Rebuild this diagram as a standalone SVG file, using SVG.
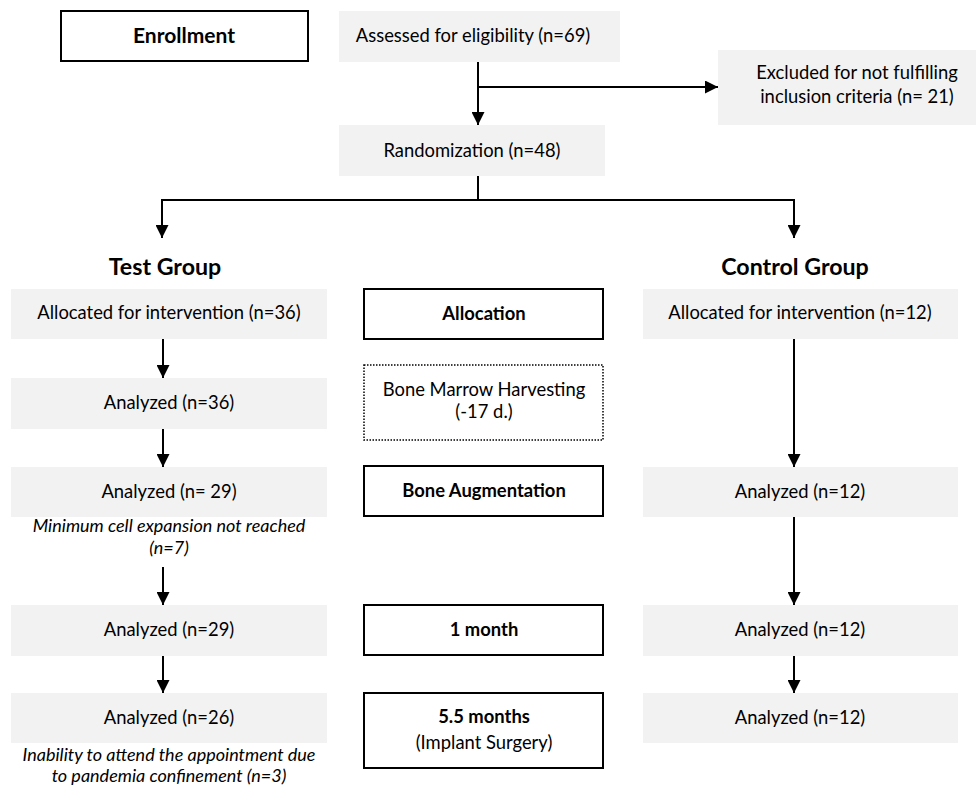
<svg xmlns="http://www.w3.org/2000/svg" width="976" height="785" viewBox="0 0 976 785">
<defs>
<style>
text{font-family:Lato,"Liberation Sans",sans-serif;font-size:18.4px;fill:#000;text-anchor:middle}
.b{font-weight:bold;font-size:18.4px}
.e{font-weight:bold;font-size:21px}
.h{font-weight:bold;font-size:23.2px}
.i{font-style:italic;font-size:18px}
.g{fill:#f2f2f2;stroke:none}
.w{fill:#fff;stroke:#000;stroke-width:2}
.d{fill:#fff;stroke:#000;stroke-width:1.5;stroke-dasharray:1.5 1.5}
.c{fill:none;stroke:#000;stroke-width:2}
</style>
<marker id="ah" markerWidth="13" markerHeight="13" refX="13" refY="6.5" orient="auto" markerUnits="userSpaceOnUse">
<path d="M0,0 L13,6.5 L0,13 Z" fill="#000"/>
</marker>
</defs>
<rect width="976" height="785" fill="#fff"/>
<g id="connectors">
<path class="c" d="M478,62 V125" marker-end="url(#ah)"/>
<path class="c" d="M478,87 H718" marker-end="url(#ah)"/>
<path class="c" d="M478,176 V200 H162 V238" marker-end="url(#ah)"/>
<path class="c" d="M478,200 H794 V238" marker-end="url(#ah)"/>
<path class="c" d="M163,339 V378" marker-end="url(#ah)"/>
<path class="c" d="M163,429 V467" marker-end="url(#ah)"/>
<path class="c" d="M163,567 V605" marker-end="url(#ah)"/>
<path class="c" d="M163,656 V693" marker-end="url(#ah)"/>
<path class="c" d="M794,339 V467" marker-end="url(#ah)"/>
<path class="c" d="M794,517 V605" marker-end="url(#ah)"/>
<path class="c" d="M794,656 V693" marker-end="url(#ah)"/>
</g>
<g id="enrollment"><rect class="w" x="61" y="11" width="247" height="50"/><text class="e" x="184" y="43">Enrollment</text></g>
<g id="assessed"><rect class="g" x="339" y="11" width="281" height="51"/><text x="473" y="42">Assessed for eligibility (n=69)</text></g>
<g id="excluded"><rect class="g" x="718" y="50" width="258" height="75"/><text x="857" y="79">Excluded for not fulfilling</text><text x="857" y="103">inclusion criteria (n= 21)</text></g>
<g id="randomization"><rect class="g" x="339" y="125" width="266" height="51"/><text x="472" y="157">Randomization (n=48)</text></g>
<g id="test-label"><text class="h" x="165" y="275">Test Group</text></g>
<g id="control-label"><text class="h" x="795" y="275">Control Group</text></g>
<g id="test-alloc"><rect class="g" x="11" y="289" width="316" height="50"/><text x="169" y="319">Allocated for intervention (n=36)</text></g>
<g id="test-an36"><rect class="g" x="11" y="378" width="316" height="51"/><text x="169" y="409">Analyzed (n=36)</text></g>
<g id="test-an29a"><rect class="g" x="11" y="467" width="316" height="50"/><text x="169" y="498">Analyzed (n= 29)</text><text class="i" x="169" y="532">Minimum cell expansion not reached</text><text class="i" x="169" y="554">(n=7)</text></g>
<g id="test-an29b"><rect class="g" x="11" y="605" width="316" height="51"/><text x="169" y="636">Analyzed (n=29)</text></g>
<g id="test-an26"><rect class="g" x="11" y="693" width="316" height="50"/><text x="169" y="724">Analyzed (n=26)</text><text class="i" x="169" y="761">Inability to attend the appointment due</text><text class="i" x="169" y="782">to pandemia confinement (n=3)</text></g>
<g id="allocation"><rect class="w" x="364" y="289" width="239" height="50"/><text class="b" x="484" y="320">Allocation</text></g>
<g id="harvest"><rect class="d" x="364" y="365" width="239" height="75"/><text x="484" y="396">Bone Marrow Harvesting</text><text x="484" y="418">(-17 d.)</text></g>
<g id="augment"><rect class="w" x="364" y="466" width="239" height="50"/><text class="b" x="484" y="497">Bone Augmentation</text></g>
<g id="month1"><rect class="w" x="364" y="605" width="239" height="50"/><text class="b" x="484" y="636">1 month</text></g>
<g id="month55"><rect class="w" x="364" y="693" width="239" height="75"/><text class="b" x="484" y="723">5.5 months</text><text x="484" y="749">(Implant Surgery)</text></g>
<g id="ctrl-alloc"><rect class="g" x="643" y="289" width="315" height="50"/><text x="800" y="319">Allocated for intervention (n=12)</text></g>
<g id="ctrl-an1"><rect class="g" x="643" y="467" width="315" height="50"/><text x="800" y="498">Analyzed (n=12)</text></g>
<g id="ctrl-an2"><rect class="g" x="643" y="605" width="315" height="51"/><text x="800" y="636">Analyzed (n=12)</text></g>
<g id="ctrl-an3"><rect class="g" x="643" y="693" width="315" height="50"/><text x="800" y="724">Analyzed (n=12)</text></g>
</svg>
